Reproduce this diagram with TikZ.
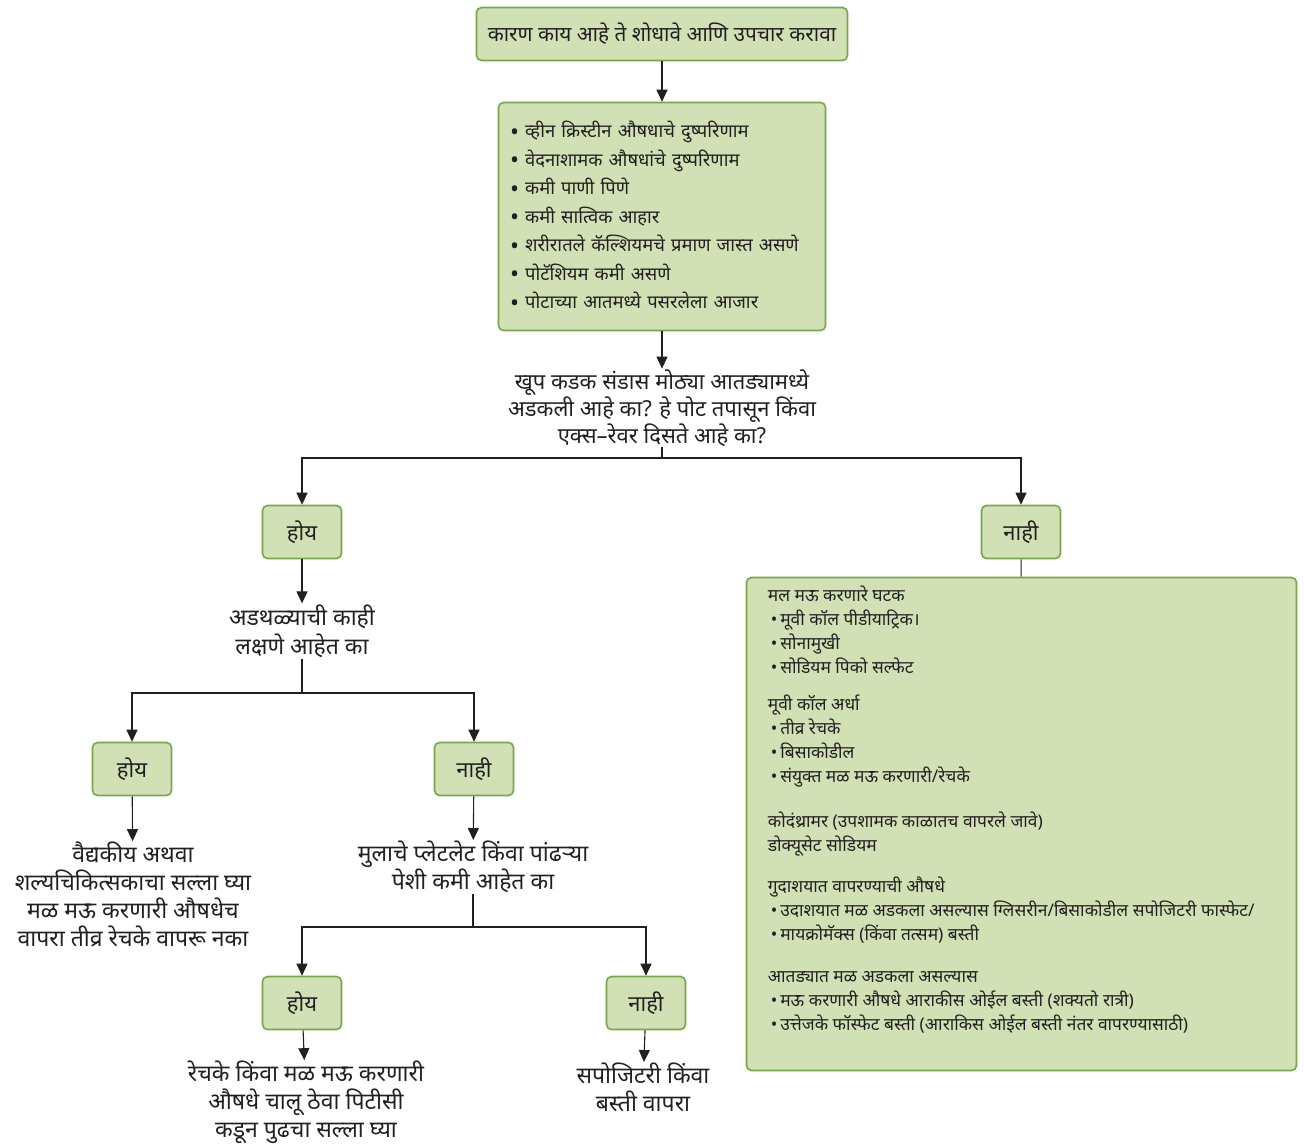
\documentclass[tikz,border=0pt]{standalone}
\usepackage{fontspec}
\setmainfont{Noto Sans}[Script=Devanagari]
\usepackage{tikz}
\usetikzlibrary{arrows.meta, positioning, calc}
\definecolor{boxgreen}{RGB}{209, 224, 181}
\definecolor{edgegreen}{RGB}{120, 166, 72}
\definecolor{inkgray}{RGB}{35, 31, 32}
\newcommand{\bigdot}{\raisebox{-2.5pt}{\fontsize{24}{24}\selectfont\textbullet}\ }
\newcommand{\smalldot}{\hspace*{3pt}\textbullet\,}

\begin{document}
\begin{tikzpicture}[
    x=1pt, y=-1pt,
    every node/.style={text=inkgray},
    greenbox/.style={
        rectangle,
        draw=edgegreen,
        line width=1.6pt,
        fill=boxgreen,
        rounded corners=5pt,
        inner sep=4pt
    },
    answer/.style={
        greenbox,
        minimum width=79pt,
        minimum height=53pt,
        font=\fontsize{22}{26}\selectfont
    },
    question/.style={
        align=center,
        inner sep=1pt,
        font=\fontsize{23}{27.7}\selectfont
    },
    arrow/.style={
        line width=1.1pt,
        draw=inkgray,
        -{Triangle[length=12pt, width=11pt]}
    },
    link/.style={
        line width=1.1pt,
        draw=inkgray
    }
]
\useasboundingbox (0,0) rectangle (1304,1144);

% ==================== TOP: CAUSES ====================

\node (cause) [greenbox, minimum width=371pt, minimum height=53pt, font=\fontsize{20.8}{24}\selectfont] at (662, 34) {कारण काय आहे ते शोधावे आणि उपचार करावा};

\node (reasons) [greenbox, minimum width=327pt, minimum height=228pt, text width=304pt, align=left, font=\fontsize{18.4}{28.5}\selectfont] at (662, 216.5) {%
\bigdot व्हीन क्रिस्टीन औषधाचे दुष्परिणाम\\
\bigdot वेदनाशामक औषधांचे दुष्परिणाम\\
\bigdot कमी पाणी पिणे\\
\bigdot कमी सात्विक आहार\\
\bigdot शरीरातले कॅल्शियमचे प्रमाण जास्त असणे\\
\bigdot पोटॅशियम कमी असणे\\
\bigdot पोटाच्या आतमध्ये पसरलेला आजार};

\node (stuck) [question, font=\fontsize{22}{25}\selectfont] at (662, 408) {खूप कडक संडास मोठ्या आतड्यामध्ये\\ अडकली आहे का? हे पोट तपासून किंवा\\ एक्स–रेवर दिसते आहे का?};

\draw [arrow] (cause) -- (reasons);
\draw [arrow] (reasons) -- (stuck);

% ==================== FIRST SPLIT ====================

\coordinate (split1) at (662, 458);
\node (yes1) [answer] at (302, 532) {होय};
\node (no1) [answer] at (1021, 532) {नाही};

\draw [link] (stuck) -- (split1);
\draw [arrow] (split1) -| (yes1);
\draw [arrow] (split1) -| (no1);

% ==================== LEFT BRANCH ====================

\node (sympt) [question, font=\fontsize{23}{29}\selectfont] at (302, 631) {अडथळ्याची काही\\ लक्षणे आहेत का};
\draw [arrow] (yes1) -- (sympt);

\coordinate (split2) at (302, 693);
\node (yes2) [answer] at (132, 769) {होय};
\node (no2) [answer] at (474, 769) {नाही};

\draw [link] (sympt) -- (split2);
\draw [arrow] (split2) -| (yes2);
\draw [arrow] (split2) -| (no2);

\node (advice) [question] at (133, 894.5) {वैद्यकीय अथवा\\ शल्यचिकित्सकाचा सल्ला घ्या\\ मळ मऊ करणारी औषधेच\\ वापरा तीव्र रेचके वापरू नका};
\node (platelet) [question] at (473, 867) {मुलाचे प्लेटलेट किंवा पांढऱ्या\\ पेशी कमी आहेत का};

\draw [arrow] (yes2) -- (advice);
\draw [arrow] (no2) -- (platelet);

\coordinate (split3) at (473, 927);
\node (yes3) [answer] at (302, 1003) {होय};
\node (no3) [answer] at (646, 1003) {नाही};

\draw [link] (platelet) -- (split3);
\draw [arrow] (split3) -| (yes3);
\draw [arrow] (split3) -| (no3);

\node (laxative) [question] at (306, 1102.5) {रेचके किंवा मळ मऊ करणारी\\ औषधे चालू ठेवा पिटीसी\\ कडून पुढचा सल्ला घ्या};
\node (supp) [question] at (643, 1087.5) {सपोजिटरी किंवा\\ बस्ती वापरा};

\draw [arrow] (yes3) -- (laxative);
\draw [arrow] (no3) -- (supp);

% ==================== RIGHT BRANCH ====================

\node (remedies) [greenbox, minimum width=550pt, minimum height=493pt] at (1021.5, 824) {};
\draw [link] (no1) -- (remedies);

\node (remlist) [below right=9pt and 22pt of remedies.north west, anchor=north west, align=left, inner sep=0pt, font=\fontsize{17.4}{24}\selectfont] {%
मल मऊ करणारे घटक\\
\smalldot मूवी कॉल पीडीयाट्रिक।\\
\smalldot सोनामुखी\\
\smalldot सोडियम पिको सल्फेट\\[13pt]
मूवी कॉल अर्धा\\
\smalldot तीव्र रेचके\\
\smalldot बिसाकोडील\\
\smalldot संयुक्त मळ मऊ करणारी/रेचके\\[21pt]
कोदंथ्रामर (उपशामक काळातच वापरले जावे)\\
डोक्यूसेट सोडियम\\[17pt]
गुदाशयात वापरण्याची औषधे\\
\smalldot उदाशयात मळ अडकला असल्यास ग्लिसरीन/बिसाकोडील सपोजिटरी फास्फेट/\\
\smalldot मायक्रोमॅक्स (किंवा तत्सम) बस्ती\\[18pt]
आतड्यात मळ अडकला असल्यास\\
\smalldot मऊ करणारी औषधे आराकीस ओईल बस्ती (शक्यतो रात्री)\\
\smalldot उत्तेजके फॉस्फेट बस्ती (आराकिस ओईल बस्ती नंतर वापरण्यासाठी)};

\end{tikzpicture}
\end{document}
